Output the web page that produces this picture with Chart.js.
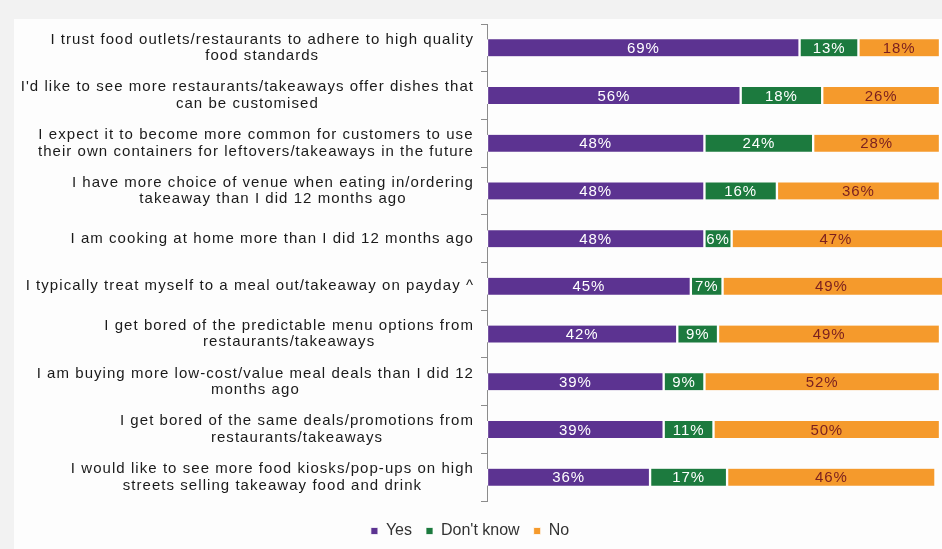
<!DOCTYPE html>
<html>
<head>
<meta charset="utf-8">
<script src="https://cdn.jsdelivr.net/npm/chart.js@4.4.0/dist/chart.umd.min.js"></script>
<style>
  body { margin: 0; background: #f2f2f2; }
  #wrap { position: relative; width: 942px; height: 549px; }
</style>
</head>
<body>
<div id="wrap"><canvas id="myChart"></canvas></div>
<script>
// statements, one entry per bar (lines as shown)
const categories = [
    ["I trust food outlets/restaurants to adhere to high quality", "food standards"],
    ["I'd like to see more restaurants/takeaways offer dishes that", "can be customised"],
    ["I expect it to become more common for customers to use", "their own containers for leftovers/takeaways in the future"],
    ["I have more choice of venue when eating in/ordering", "takeaway than I did 12 months ago"],
    ["I am cooking at home more than I did 12 months ago"],
    ["I typically treat myself to a meal out/takeaway on payday ^"],
    ["I get bored of the predictable menu options from", "restaurants/takeaways"],
    ["I am buying more low-cost/value meal deals than I did 12", "months ago"],
    ["I get bored of the same deals/promotions from", "restaurants/takeaways"],
    ["I would like to see more food kiosks/pop-ups on high", "streets selling takeaway food and drink"]
];
const yes = [69, 56, 48, 48, 48, 45, 42, 39, 39, 36];
const dontKnow = [13, 18, 24, 16, 6, 7, 9, 9, 11, 17];
const no = [18, 26, 28, 36, 47, 49, 49, 52, 50, 46];

const colour = ['#5c3391', '#1c7a3e', '#f59a2c'];
const labelColour = ['#ffffff', '#ffffff', '#7a1f1f'];

// paint the page backdrop, and widen the text spacing for the legend
const backdrop = {
    id: 'backdrop',
    beforeInit(chart) {
        chart.ctx.letterSpacing = '1px';
    },
    beforeDraw(chart) {
        const ctx = chart.ctx;
        ctx.save();
        ctx.fillStyle = '#fdfdfd';
        ctx.fillRect(14, 19, chart.width - 14, chart.height - 19);
        ctx.restore();
    }
};

// category text, each block right aligned with its lines centred
const catLabels = {
    id: 'catLabels',
    afterDraw(chart) {
        const ctx = chart.ctx;
        const scale = chart.scales.y;
        ctx.save();
        ctx.font = '15px Arial, "Liberation Sans", sans-serif';
        ctx.letterSpacing = '1.05px';
        ctx.fillStyle = '#1a1a1a';
        ctx.textAlign = 'center';
        ctx.textBaseline = 'middle';
        const right = 474;
        const lh = 16.5;
        for (let i = 0; i < categories.length; i++) {
            const lines = categories[i];
            let widest = 0;
            lines.forEach(l => { widest = Math.max(widest, ctx.measureText(l).width); });
            const cx = right - widest / 2;
            const cy = scale.getPixelForTick(i);
            const top = cy - (lines.length - 1) * lh / 2;
            lines.forEach((l, j) => ctx.fillText(l, cx, top + j * lh));
        }
        ctx.restore();
    }
};

// percentage text inside each segment
const barLabels = {
    id: 'barLabels',
    afterDatasetsDraw(chart) {
        const ctx = chart.ctx;
        ctx.save();
        ctx.font = '15px Arial, "Liberation Sans", sans-serif';
        ctx.letterSpacing = '0.9px';
        ctx.textAlign = 'center';
        ctx.textBaseline = 'middle';
        chart.data.datasets.forEach((ds, d) => {
            const meta = chart.getDatasetMeta(d);
            ctx.fillStyle = labelColour[d];
            meta.data.forEach((bar, i) => {
                const x = Math.min((bar.x + bar.base) / 2, (bar.base + chart.chartArea.right) / 2);
                ctx.fillText(ds.data[i] + '%', x, bar.y + 1);
            });
        });
        ctx.restore();
    }
};

const ctx = document.getElementById('myChart').getContext('2d');
const myChart = new Chart(ctx, {
    type: 'bar',
    data: {
        labels: categories,
        datasets: [
            { label: 'Yes', data: yes, backgroundColor: colour[0] },
            { label: "Don't know", data: dontKnow, backgroundColor: colour[1] },
            { label: 'No', data: no, backgroundColor: colour[2] }
        ]
    },
    options: {
        indexAxis: 'y',
        responsive: true,
        maintainAspectRatio: false,
        animation: false,
        layout: { padding: { left: 0, right: 2, top: 24, bottom: 0 } },
        datasets: {
            bar: {
                barThickness: 17,
                borderColor: '#ffffff',
                borderWidth: { left: 1.5, right: 1.5, top: 0, bottom: 0 },
                borderSkipped: false,
                clip: false
            }
        },
        scales: {
            x: {
                stacked: true,
                min: 0,
                max: 100,
                ticks: { display: false },
                grid: { display: false },
                border: { display: false },
                afterFit(scale) { scale.height = 8; }
            },
            y: {
                stacked: true,
                ticks: { display: false },
                grid: {
                    offset: true,
                    drawOnChartArea: false,
                    tickLength: 6,
                    color: '#8c8c8c'
                },
                border: { color: '#8c8c8c', width: 1 },
                afterFit(scale) { scale.width = 487; }
            }
        },
        plugins: {
            tooltip: { enabled: false },
            legend: {
                position: 'bottom',
                labels: {
                    boxWidth: 7,
                    boxHeight: 7,
                    padding: 14,
                    color: '#333333',
                    font: { family: 'Arial, "Liberation Sans", sans-serif', size: 16 }
                }
            }
        }
    },
    plugins: [backdrop, catLabels, barLabels]
});
</script>
</body>
</html>
